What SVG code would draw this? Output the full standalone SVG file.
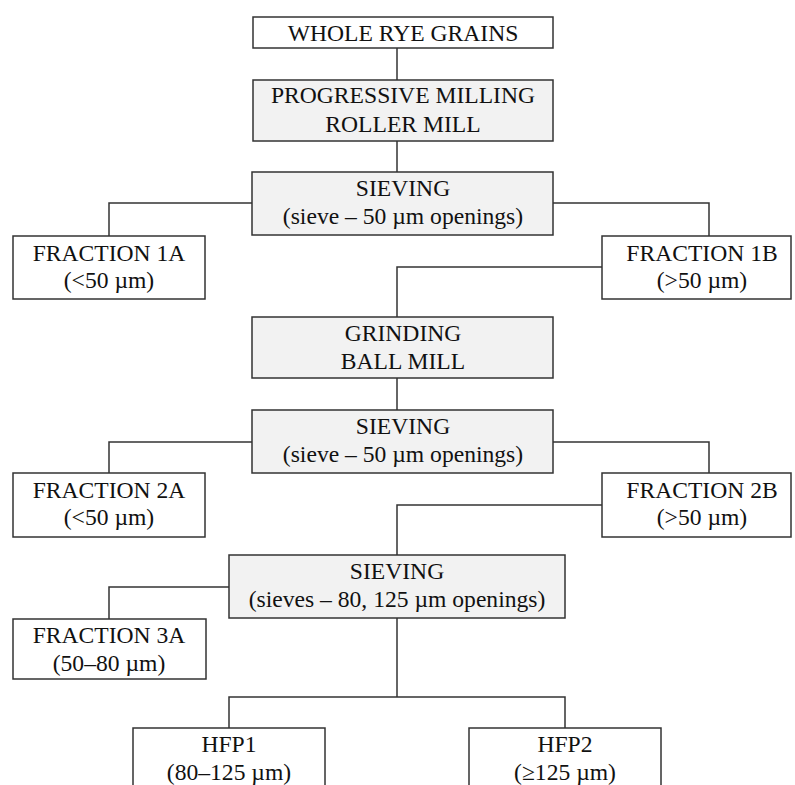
<svg xmlns="http://www.w3.org/2000/svg" width="795" height="785" viewBox="0 0 795 785">
<style>
.box{fill:#ffffff;stroke:#333;stroke-width:1.5}
.proc{fill:#f2f2f2;stroke:#333;stroke-width:1.5}
.t{font-family:"Liberation Serif","Times New Roman",serif;font-size:23.6px;fill:#111;text-anchor:middle}
.c{fill:none;stroke:#333;stroke-width:1.5}
</style>
<rect width="795" height="785" fill="#ffffff"/>
<g id="connectors">
<path class="c" d="M397,48V80"/>
<path class="c" d="M397,141V172"/>
<path class="c" d="M252,203H109V236"/>
<path class="c" d="M553,203H709V236"/>
<path class="c" d="M602,267H397V317"/>
<path class="c" d="M397,378V410"/>
<path class="c" d="M252,442H109V473"/>
<path class="c" d="M553,442H709V473"/>
<path class="c" d="M602,505H397V555"/>
<path class="c" d="M229,587H109V619"/>
<path class="c" d="M397,618V697"/>
<path class="c" d="M229,728V697H565V728"/>
</g>
<g id="whole">
<rect class="box" x="253" y="17" width="300" height="31"/>
<text class="t" x="403" y="40.5">WHOLE RYE GRAINS</text>
</g>
<g id="milling">
<rect class="proc" x="253" y="80" width="300" height="61"/>
<text class="t" x="403" y="103">PROGRESSIVE MILLING</text>
<text class="t" x="403" y="131.5">ROLLER MILL</text>
</g>
<g id="sieving1">
<rect class="proc" x="252" y="172" width="301" height="63"/>
<text class="t" x="403" y="196">SIEVING</text>
<text class="t" x="403" y="224">(sieve – 50 µm openings)</text>
</g>
<g id="fraction1a">
<rect class="box" x="13" y="236" width="192" height="63"/>
<text class="t" x="109" y="260.5">FRACTION 1A</text>
<text class="t" x="109" y="288">(&lt;50 µm)</text>
</g>
<g id="fraction1b">
<rect class="box" x="602" y="236" width="189" height="63"/>
<text class="t" x="702" y="260.5">FRACTION 1B</text>
<text class="t" x="702" y="288">(&gt;50 µm)</text>
</g>
<g id="grinding">
<rect class="proc" x="252" y="317" width="301" height="61"/>
<text class="t" x="403" y="341">GRINDING</text>
<text class="t" x="403" y="369">BALL MILL</text>
</g>
<g id="sieving2">
<rect class="proc" x="252" y="410" width="301" height="63"/>
<text class="t" x="403" y="434">SIEVING</text>
<text class="t" x="403" y="462">(sieve – 50 µm openings)</text>
</g>
<g id="fraction2a">
<rect class="box" x="13" y="473" width="192" height="64"/>
<text class="t" x="109" y="497.5">FRACTION 2A</text>
<text class="t" x="109" y="525">(&lt;50 µm)</text>
</g>
<g id="fraction2b">
<rect class="box" x="602" y="473" width="189" height="64"/>
<text class="t" x="702" y="497.5">FRACTION 2B</text>
<text class="t" x="702" y="525">(&gt;50 µm)</text>
</g>
<g id="sieving3">
<rect class="proc" x="229" y="555" width="336" height="63"/>
<text class="t" x="397" y="579">SIEVING</text>
<text class="t" x="397" y="607">(sieves – 80, 125 µm openings)</text>
</g>
<g id="fraction3a">
<rect class="box" x="13" y="619" width="193" height="60"/>
<text class="t" x="109" y="643">FRACTION 3A</text>
<text class="t" x="109" y="671">(50–80 µm)</text>
</g>
<g id="hfp1">
<rect class="box" x="133" y="728" width="192" height="64"/>
<text class="t" x="229" y="752">HFP1</text>
<text class="t" x="229" y="780">(80–125 µm)</text>
</g>
<g id="hfp2">
<rect class="box" x="469" y="728" width="192" height="64"/>
<text class="t" x="565" y="752">HFP2</text>
<text class="t" x="565" y="780">(≥125 µm)</text>
</g>
</svg>
